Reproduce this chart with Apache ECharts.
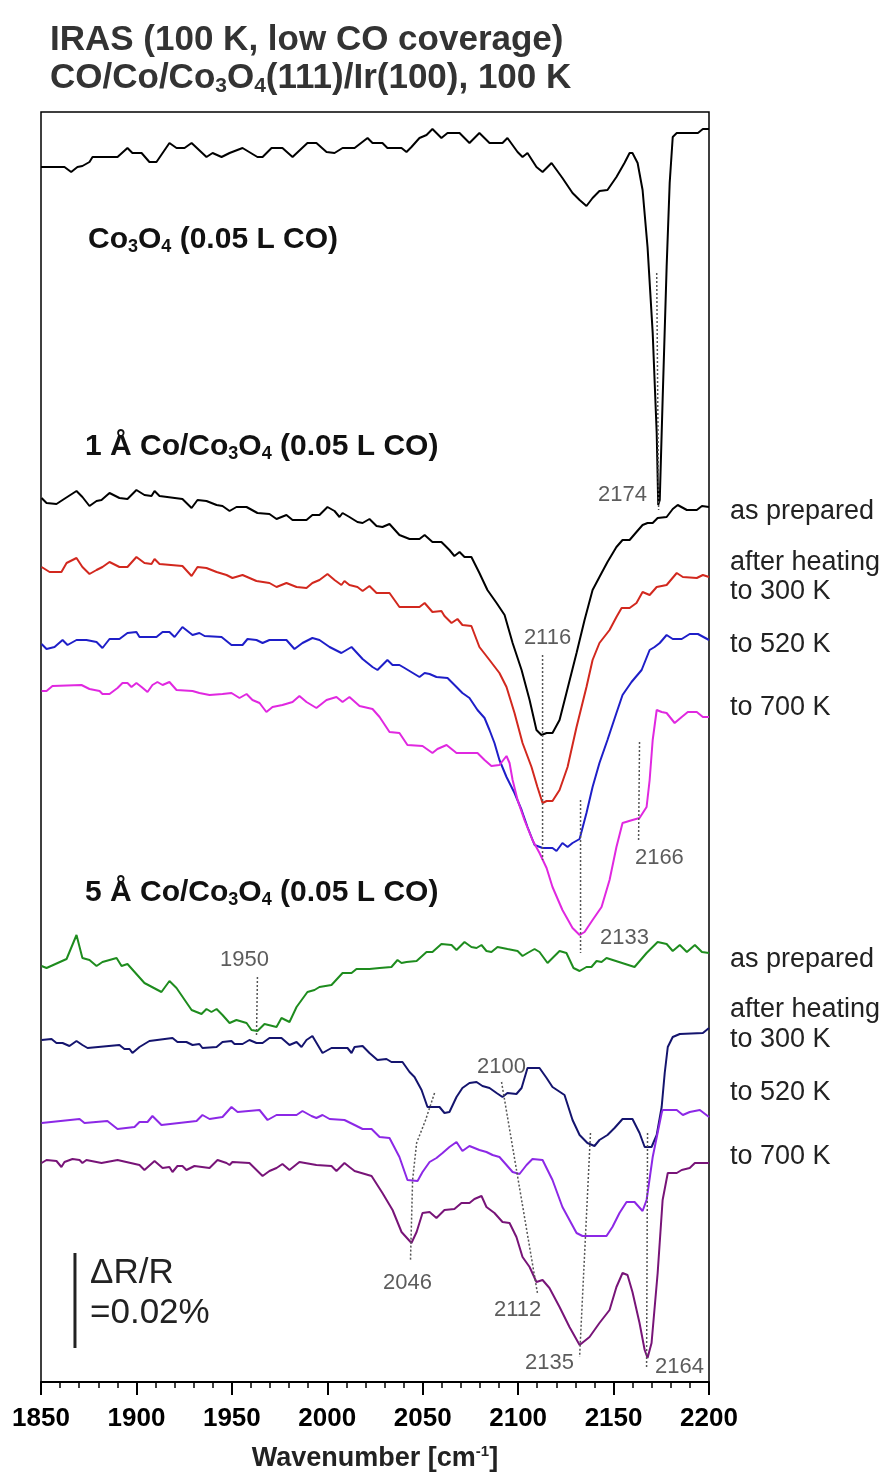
<!DOCTYPE html>
<html>
<head>
<meta charset="utf-8">
<title>IRAS CO/Co/Co3O4(111)/Ir(100)</title>
<script src="https://cdn.jsdelivr.net/npm/echarts@6/dist/echarts.min.js"></script>
<style>
html, body { margin: 0; padding: 0; background: #fff; }
#chart { width: 889px; height: 1475px; }
</style>
</head>
<body>
<div id="chart"></div>
<script>
// [wavenumber cm-1, offset signal (arb., 95 units = 0.02 % dR/R)]
const co3o4 = [[1850,1215],[1862.3,1215],[1865.8,1210],[1869.1,1215],[1871.7,1216],[1875.4,1220],[1877,1225],[1890.1,1225],[1895.3,1234],[1897.9,1229],[1902.7,1229],[1906.8,1220],[1910.5,1220],[1917.3,1239],[1921,1234],[1925.2,1234],[1928.9,1239],[1936.7,1225],[1939.9,1229],[1944.6,1225],[1948.8,1229],[1955.6,1234],[1963.4,1225],[1966.1,1225],[1970.8,1234],[1976.5,1234],[1981.8,1225],[1989.6,1239],[1994.3,1239],[1999.6,1230],[2003.8,1229],[2008,1234],[2014.3,1234],[2021.1,1244],[2023.7,1239],[2028.9,1239],[2031.5,1234],[2038.9,1234],[2041.5,1230],[2044.1,1235],[2048.3,1244],[2052,1247],[2055.1,1253],[2059.8,1244],[2063,1249],[2069.3,1249],[2074.5,1239],[2079.7,1249],[2085,1239],[2091.8,1239],[2094.4,1244],[2099.7,1230],[2102.3,1225],[2104.9,1229],[2109.6,1215],[2112.8,1210],[2117.5,1219],[2123.2,1204],[2128.5,1189],[2132.2,1182],[2135.8,1176],[2139,1184],[2142.6,1191],[2146.8,1192],[2151.5,1205],[2155.7,1219],[2158.4,1229],[2159.9,1229],[2162.6,1219],[2165.2,1192],[2167.8,1135],[2170.5,1049],[2172.6,949],[2173.4,877],[2174.2,882],[2175.7,982],[2177.8,1115],[2179.4,1199],[2181,1245],[2183.1,1249],[2194.2,1249],[2196.8,1253],[2200,1253]];

const co1A_asPrep = [[1850.3,884],[1852.9,879],[1858.1,878],[1861.3,882],[1868.6,891],[1871.7,885],[1875.4,876],[1879.1,881],[1881.7,882],[1885.9,889],[1891.1,884],[1895.3,883],[1900,892],[1904.2,887],[1907.9,886],[1909.5,891],[1912.1,886],[1924.1,883],[1928.9,874],[1932,882],[1936.7,881],[1942,877],[1945.1,876],[1948.8,871],[1952.4,875],[1957.7,875],[1963.4,869],[1969.7,868],[1973.4,863],[1978.6,867],[1981.8,862],[1989.1,862],[1992.2,867],[1995.9,867],[2000.1,875],[2003.8,871],[2006.4,865],[2008,869],[2011.6,865],[2015.8,860],[2018.5,859],[2022.1,863],[2025.8,856],[2028.9,855],[2032.6,858],[2037.8,847],[2043.1,843],[2048.3,843],[2051,847],[2055.1,840],[2059.8,840],[2061.4,837],[2064,832],[2066.6,826],[2069.3,830],[2071.9,825],[2075.5,825],[2079.7,809],[2083.9,792],[2088.7,779],[2092.9,767],[2097.1,739],[2101.8,712],[2106,682],[2109.6,652],[2112.2,647],[2114.9,649],[2118,649],[2121.7,662],[2125.3,689],[2130.6,729],[2134.8,762],[2139,792],[2142.6,805],[2146.8,820],[2151.5,835],[2154.7,842],[2158.4,842],[2162,850],[2165.2,857],[2167.8,859],[2170.5,859],[2173.1,864],[2177.8,865],[2181,873],[2183.6,877],[2188.4,872],[2193.6,872],[2196.3,876],[2200,875]];

const co1A_300K = [[1850.3,815],[1854.5,810],[1860.7,810],[1863.4,819],[1868.6,824],[1871.7,815],[1875.4,808],[1879.1,812],[1882.2,815],[1885.9,820],[1891.1,815],[1895.3,815],[1900,825],[1904.2,819],[1907.9,818],[1909.5,823],[1912.1,818],[1924.1,816],[1928.9,806],[1932,815],[1936.7,814],[1942,810],[1947.2,807],[1950.3,804],[1955.6,807],[1962.9,801],[1969.7,799],[1973.4,795],[1978.6,799],[1983.9,795],[1989.1,794],[1992.2,799],[1995.9,802],[2000.1,808],[2003.8,802],[2007.4,797],[2009,801],[2011.6,797],[2015.8,795],[2018.5,791],[2022.1,796],[2025.8,789],[2032.6,789],[2037.8,775],[2044.7,775],[2048.3,775],[2051,779],[2055.1,770],[2059.8,771],[2061.4,766],[2065.1,759],[2068.2,763],[2070.8,757],[2075.5,756],[2079.7,735],[2085,722],[2090.2,709],[2093.9,695],[2098.1,669],[2102.3,639],[2107,615],[2110.1,595],[2112.8,579],[2114.9,581],[2118,581],[2121.7,592],[2125.9,615],[2130.6,655],[2135.8,695],[2139,722],[2142.6,739],[2147.9,752],[2151.5,765],[2154.2,774],[2158.4,774],[2162,779],[2165.2,790],[2168.9,787],[2172.6,795],[2177.8,797],[2183.1,809],[2186.3,805],[2193.6,804],[2196.8,807],[2200,805]];

const co1A_520K = [[1850.3,738],[1852.9,733],[1857.1,735],[1861.3,742],[1863.9,737],[1868.6,742],[1873.8,742],[1879.1,740],[1882.2,734],[1885.9,743],[1891.1,743],[1895.3,749],[1900,750],[1901.6,745],[1910.5,745],[1913.7,750],[1917.3,750],[1920,745],[1924.1,755],[1929.4,747],[1933,749],[1935.7,746],[1944.6,745],[1949.8,737],[1955.6,737],[1958.2,743],[1962.9,742],[1966.1,739],[1969.7,742],[1978.6,742],[1982.8,733],[1987,739],[1992.2,744],[1995.9,742],[2001.2,735],[2007.4,729],[2012.7,735],[2018.5,723],[2023.7,715],[2026.3,712],[2031.5,722],[2034.2,717],[2037.8,717],[2040.5,714],[2048.3,705],[2051,709],[2053.6,708],[2057.2,705],[2063,704],[2067.7,695],[2070.8,689],[2074.5,684],[2078.7,672],[2082.4,664],[2085,652],[2087.6,639],[2090.2,622],[2093.9,605],[2098.1,589],[2101.8,572],[2104.9,555],[2108.6,537],[2112.8,534],[2118,534],[2120.1,531],[2123.2,539],[2125.9,535],[2128.5,539],[2132.2,543],[2135.8,569],[2139,595],[2142.6,619],[2146.8,642],[2151.5,669],[2154.7,687],[2159.4,700],[2164.7,712],[2168.9,732],[2171.5,735],[2174.2,739],[2177.8,747],[2181,743],[2185.7,743],[2189.9,748],[2194.2,748],[2200,742]];

const co1A_700K = [[1850.3,691],[1852.9,691],[1856,696],[1871.2,697],[1875.4,693],[1880.7,691],[1882.2,688],[1885.9,688],[1890.1,694],[1892.7,699],[1895.3,699],[1897.4,695],[1900,699],[1902.7,695],[1905.8,690],[1908.4,697],[1911,700],[1913.7,697],[1917.3,700],[1921,692],[1929.4,691],[1933,689],[1938.3,687],[1945.1,688],[1949.8,689],[1954,684],[1957.7,688],[1960.8,682],[1964.5,679],[1968.1,670],[1971.3,675],[1976.5,677],[1981.8,680],[1985.4,686],[1989.1,680],[1994.3,674],[1999.6,682],[2004.8,685],[2008,680],[2011.6,685],[2016.9,676],[2023.7,673],[2027.4,665],[2032.6,650],[2037.8,649],[2042,637],[2049.9,636],[2055.1,629],[2057.7,633],[2062.5,637],[2067.7,629],[2078.7,629],[2082.4,622],[2086,616],[2090.2,617],[2093.9,626],[2095.5,619],[2097.1,602],[2099.7,582],[2103.3,562],[2107.5,542],[2111.2,529],[2114.9,514],[2118,495],[2123.2,472],[2128.5,454],[2132.2,447],[2134.8,450],[2139,462],[2143.7,475],[2147.9,502],[2151.5,535],[2154.7,559],[2159.9,562],[2163.6,564],[2167.3,575],[2168.9,602],[2170.5,642],[2172.6,672],[2175.2,670],[2177.8,669],[2182,659],[2185.7,665],[2188.9,670],[2193.6,670],[2196.8,665],[2200,665]];

const co5A_asPrep = [[1850.3,416],[1852.9,414],[1863.4,423],[1868.6,447],[1871.7,424],[1875.4,422],[1879.1,416],[1882.2,420],[1889.6,424],[1892.2,416],[1895.3,418],[1904.2,399],[1913.1,390],[1917.3,401],[1921,394],[1928.9,372],[1934.1,368],[1936.7,373],[1939.3,370],[1942,373],[1945.1,367],[1948.8,359],[1952.4,362],[1957.7,359],[1960.3,352],[1963.4,351],[1967.1,358],[1973.4,355],[1976,364],[1980.2,360],[1983.9,375],[1989.6,390],[1993.3,392],[1995.9,395],[2002.2,397],[2008,409],[2012.7,409],[2015.3,413],[2022.1,413],[2027.4,414],[2033.6,415],[2036.8,422],[2038.9,419],[2041.5,420],[2046.8,421],[2052,430],[2055.1,430],[2059.8,438],[2065.1,437],[2067.7,432],[2071.9,440],[2075.5,435],[2078.2,434],[2080.8,437],[2083.4,431],[2086,430],[2089.2,435],[2094.4,433],[2099.7,431],[2102.3,426],[2104.9,429],[2108.6,433],[2111.2,430],[2115.4,419],[2121.7,431],[2125.3,429],[2129,414],[2132.2,411],[2135.8,415],[2138.4,415],[2141.1,421],[2143.7,420],[2146.3,424],[2161,415],[2167.3,429],[2173.1,440],[2177.8,438],[2181,431],[2184.7,437],[2188.4,430],[2192.6,437],[2196.3,430],[2200,429]];

const co5A_300K = [[1850.3,342],[1855.5,343],[1858.1,339],[1861.3,339],[1864.9,336],[1868.6,341],[1871.7,337],[1874.4,334],[1891.1,337],[1893.7,333],[1896.4,333],[1897.9,329],[1901.6,335],[1906.8,341],[1918.9,344],[1921.5,340],[1926.2,340],[1929.4,337],[1933,338],[1934.6,334],[1942,335],[1945.1,340],[1949.8,341],[1951.4,338],[1955.6,338],[1959.2,342],[1962.9,339],[1966.1,339],[1969.7,344],[1976,344],[1980.2,337],[1983.9,340],[1986.5,335],[1989.1,342],[1992.2,346],[1997.5,329],[2002.2,334],[2010.6,334],[2012.7,329],[2014.3,335],[2018.5,336],[2022.1,329],[2026.3,322],[2031,323],[2033.6,320],[2039.4,320],[2043.1,310],[2045.7,305],[2049.4,292],[2052.5,275],[2058.8,275],[2061.4,269],[2064,270],[2067.7,285],[2070.8,294],[2074.5,299],[2078.2,300],[2081.3,296],[2085,294],[2088.7,289],[2091.8,285],[2094.4,289],[2099.1,288],[2101.8,294],[2104.9,314],[2111.2,314],[2114.9,304],[2118,295],[2124.3,287],[2128.5,262],[2132.2,247],[2136.3,239],[2140,236],[2142.6,242],[2146.8,247],[2150.5,254],[2154.7,263],[2159.9,263],[2163.6,249],[2166.3,235],[2169.9,235],[2172.6,247],[2175.2,275],[2176.8,309],[2178.4,335],[2181,345],[2184.7,348],[2196.8,349],[2200,354]];

const co5A_520K = [[1850.3,259],[1870.2,263],[1872.8,259],[1884.8,261],[1890.1,253],[1899,255],[1901.6,260],[1905.8,260],[1908.4,266],[1913.1,257],[1931.5,261],[1934.6,267],[1938.3,263],[1945.1,265],[1949.8,275],[1953,270],[1964.5,272],[1968.7,262],[1973.4,267],[1983.9,267],[1987,271],[1991.7,266],[1994.3,264],[1997.5,267],[2001.2,263],[2009,262],[2014.3,257],[2018.5,253],[2023.2,253],[2027.4,245],[2032.6,244],[2037.8,225],[2042,202],[2047.3,201],[2049.9,210],[2053.6,220],[2057.2,224],[2060.4,229],[2064,235],[2067.7,240],[2070.8,231],[2074.5,236],[2079.7,232],[2083.4,230],[2086.6,227],[2090.2,225],[2093.9,217],[2097.1,210],[2100.7,208],[2104.4,217],[2107.5,223],[2112.8,222],[2118,202],[2123.2,175],[2130.6,149],[2133.7,146],[2146.3,146],[2149.4,155],[2153.1,169],[2156.8,180],[2161,180],[2165.2,171],[2167.3,182],[2170.5,225],[2175.2,269],[2175.7,272],[2183.1,272],[2186.3,267],[2189.9,270],[2195.2,272],[2200,265]];

const co5A_700K = [[1850.3,219],[1852.9,222],[1858.1,221],[1860.7,215],[1862.3,220],[1866.5,223],[1870.2,222],[1871.7,219],[1873.8,222],[1881.7,219],[1890.1,222],[1901.6,217],[1904.2,212],[1909.5,221],[1913.7,214],[1917.3,215],[1918.9,210],[1921.5,216],[1924.1,216],[1926.2,212],[1930.4,216],[1938.3,214],[1942.5,222],[1947.2,219],[1948.8,217],[1950.3,220],[1959.2,219],[1966.1,206],[1969.7,211],[1973.4,214],[1976.5,218],[1980.2,212],[1985.4,220],[1994.3,217],[2002.2,216],[2004.8,211],[2009,219],[2011.6,215],[2014.3,211],[2023.2,206],[2028.9,189],[2034.2,172],[2038.9,150],[2044.1,139],[2046.8,150],[2049.9,169],[2053.6,170],[2057.2,164],[2061.4,172],[2066.6,173],[2070.3,179],[2074.5,179],[2077.1,183],[2080.8,186],[2083.4,175],[2087.6,169],[2091.8,160],[2095.5,159],[2099.1,145],[2102.3,125],[2106,115],[2109.6,100],[2112.8,102],[2116.4,94],[2121.7,75],[2126.9,55],[2132.2,37],[2137.4,45],[2142.6,59],[2147.9,72],[2151.5,95],[2154.7,109],[2157.3,107],[2159.9,90],[2163.6,59],[2166.3,32],[2167.8,24],[2169.9,39],[2173.1,109],[2175.7,182],[2178.4,209],[2183.1,209],[2185.7,212],[2189.9,214],[2192.6,219],[2200,219]];

// dotted peak guides
const guides = [
    [[2172.6,1109],[2173.6,872]],
    [[2112.8,727],[2112.8,522]],
    [[2132.7,582],[2132.7,429]],
    [[2163.6,640],[2163.1,540]],
    [[1963.4,405],[1962.9,345]],
    [[2056.2,289],[2051.5,262],[2046.8,239],[2044.7,202],[2043.6,122]],
    [[2091.3,300],[2110.1,89]],
    [[2137.9,249],[2132.2,25]],
    [[2167.8,249],[2167.3,14]]
];

const peakLabels = [
    [2154.7,887,'2174'], [2115.4,744,'2116'], [2174.0,524,'2166'], [2155.7,444,'2133'],
    [1956.6,422,'1950'], [2091.3,315,'2100'], [2042.0,99,'2046'], [2099.7,72,'2112'],
    [2116.4,19,'2135'], [2184.5,15,'2164']
];

// scale bar: 95 units = 0.02 %
const scaleBar = [[1867.8,129],[1867.8,34]];

const xTicks = { min: 1850, max: 2200, step: 50 };

const FONT = '"Liberation Sans", Arial, Helvetica, sans-serif';

const curves = [
    { name: 'Co3O4', data: co3o4, color: '#000000' },
    { name: '1A as prepared', data: co1A_asPrep, color: '#000000' },
    { name: '1A 300 K', data: co1A_300K, color: '#d2281e' },
    { name: '1A 520 K', data: co1A_520K, color: '#1e1ec8' },
    { name: '1A 700 K', data: co1A_700K, color: '#e028e0' },
    { name: '5A as prepared', data: co5A_asPrep, color: '#1e8c1e' },
    { name: '5A 300 K', data: co5A_300K, color: '#14146e' },
    { name: '5A 520 K', data: co5A_520K, color: '#8c28e6' },
    { name: '5A 700 K', data: co5A_700K, color: '#781478' }
];

const chart = echarts.init(document.getElementById('chart'), null, { renderer: 'canvas' });

const series = curves.map(c => ({
    name: c.name,
    type: 'line',
    data: c.data,
    showSymbol: false,
    symbol: 'none',
    lineStyle: { color: c.color, width: 2 },
    z: 3
}));

guides.forEach(g => series.push({
    type: 'line',
    data: g,
    symbol: 'none',
    lineStyle: { color: '#555', width: 1.5, type: [2, 2] },
    z: 4
}));

series.push({
    type: 'line',
    data: scaleBar,
    symbol: 'none',
    lineStyle: { color: '#222', width: 3 }
});

series.push({
    type: 'scatter',
    data: peakLabels,
    symbolSize: 1,
    itemStyle: { color: 'transparent' },
    label: {
        show: true,
        position: 'inside',
        formatter: p => p.data[2],
        fontFamily: FONT,
        fontSize: 22,
        color: '#333'
    },
    z: 5
});

function txt(x, y, text, size, weight, color) {
    return {
        type: 'text', x: x, y: y,
        style: {
            text: text, fontFamily: FONT, fontSize: size, fontWeight: weight,
            fill: color, verticalAlign: 'middle', align: 'left'
        }
    };
}

function richTxt(x, y, text, size, subSize, color, lh) {
    return {
        type: 'text', x: x, y: y,
        style: {
            text: text, fontFamily: FONT, fontSize: size, fontWeight: 'bold',
            fill: color, verticalAlign: 'middle', align: 'left', lineHeight: lh,
            rich: {
                m: { fontFamily: FONT, fontSize: size, fontWeight: 'bold', fill: color, lineHeight: lh },
                s: { fontFamily: FONT, fontSize: subSize, fontWeight: 'bold', fill: color,
                     lineHeight: Math.round(subSize * 0.8), verticalAlign: 'bottom' }
            }
        }
    };
}

const rightLabels = [
    ['as prepared', 512], ['after heating', 563], ['to 300 K', 592], ['to 520 K', 645], ['to 700 K', 708],
    ['as prepared', 960], ['after heating', 1010], ['to 300 K', 1040], ['to 520 K', 1093], ['to 700 K', 1157]
];

const graphics = [
    txt(50, 40, 'IRAS (100 K, low CO coverage)', 35, 'bold', '#333'),
    richTxt(50, 78, '{m|CO/Co/Co}{s|3}{m|O}{s|4}{m|(111)/Ir(100), 100 K}', 35, 21, '#333', 37),
    richTxt(88, 240, '{m|Co}{s|3}{m|O}{s|4}{m| (0.05 L CO)}', 30, 18, '#111', 32),
    richTxt(85, 447, '{m|1 Å Co/Co}{s|3}{m|O}{s|4}{m| (0.05 L CO)}', 30, 18, '#111', 32),
    richTxt(85, 893, '{m|5 Å Co/Co}{s|3}{m|O}{s|4}{m| (0.05 L CO)}', 30, 18, '#111', 32),
    txt(90, 1273, 'ΔR/R', 35, 'normal', '#222'),
    txt(90, 1313, '=0.02%', 35, 'normal', '#222')
];
rightLabels.forEach(r => graphics.push(txt(730, r[1], r[0], 27, 'normal', '#222')));

chart.setOption({
    animation: false,
    backgroundColor: '#fff',
    grid: {
        left: 41, right: 180, top: 112, bottom: 93,
        containLabel: false,
        outerBoundsMode: 'none',
        show: true, borderColor: '#000', borderWidth: 1.5, backgroundColor: 'transparent'
    },
    xAxis: {
        type: 'value',
        min: xTicks.min, max: xTicks.max, interval: xTicks.step,
        name: 'Wavenumber [cm{sup|-1}]',
        nameLocation: 'middle',
        nameGap: 62,
        nameTextStyle: {
            fontFamily: FONT, fontSize: 27, fontWeight: 'bold', color: '#222', lineHeight: 30,
            rich: {
                sup: { fontFamily: FONT, fontSize: 15, fontWeight: 'bold', color: '#222',
                       lineHeight: 14, verticalAlign: 'top' }
            }
        },
        axisLine: { onZero: false, lineStyle: { color: '#000', width: 2 } },
        axisTick: { show: true, inside: false, length: 13, lineStyle: { color: '#000', width: 2 } },
        minorTick: { show: true, splitNumber: 5, length: 6, lineStyle: { color: '#000', width: 1.5 } },
        splitLine: { show: false },
        minorSplitLine: { show: false },
        axisLabel: {
            fontFamily: FONT, fontSize: 26, fontWeight: 'bold', color: '#000', margin: 24,
            formatter: v => String(v)
        }
    },
    yAxis: {
        type: 'value', min: 0, max: 1270, show: false
    },
    graphic: graphics,
    series: series
});
</script>
</body>
</html>
